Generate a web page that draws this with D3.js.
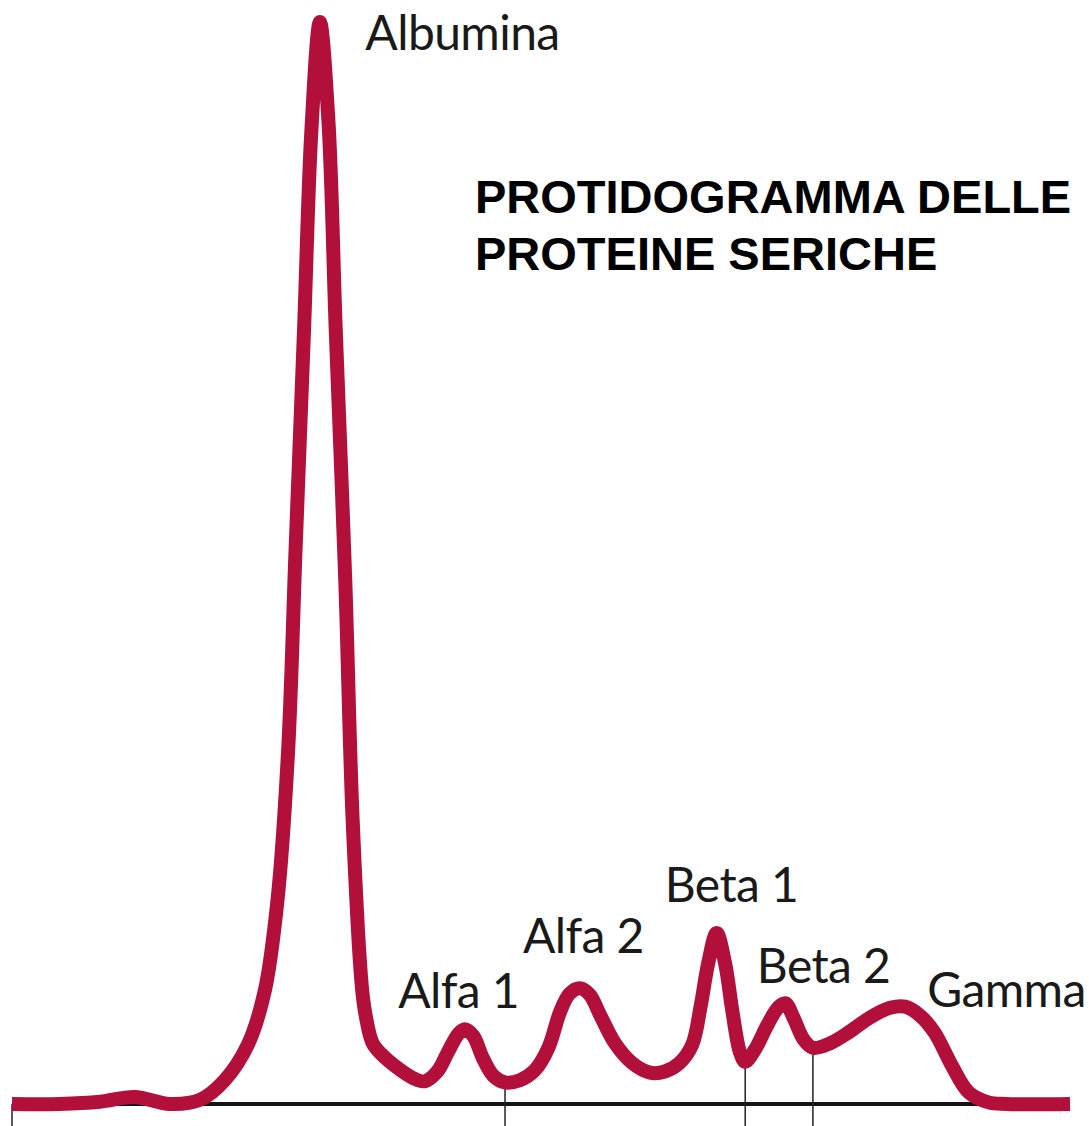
<!doctype html>
<meta charset="utf-8">
<title>Protidogramma</title>
<script src="https://cdn.jsdelivr.net/npm/d3@7"></script>
<style>
  body { margin: 0; background: #fff; }
  .lbl { font-family: Lato, "Open Sans", sans-serif; font-size: 48px; letter-spacing: -0.6px; fill: #1a1a1a; }
  .title { font-family: "Liberation Sans", Arial, sans-serif; font-weight: bold; font-size: 47px; fill: #000; }
</style>
<body>
<div id="chart"></div>
<script>

    // mobility (0-100) vs. density (0-100, albumin peak = 100)
    var mobility = [0, 4.5, 8.3, 11.6, 14.9, 17.8, 20.1, 22.3, 23.9, 25.1, 26.1, 26.8, 27.6, 28.3, 29.1,
            29.9, 30.6, 31.5, 32.2, 33.1, 33.5, 34.1, 35.3, 36.7, 37.9, 39.0, 40.2, 41.2, 42.2, 42.8,
            43.6, 44.5, 45.5, 46.6, 48.0, 49.4, 50.7, 51.8, 52.7, 53.7, 54.6, 55.6, 57.0, 58.6, 60.3,
            61.7, 63.1, 64.3, 65.1, 65.8, 66.6, 67.4, 68.1, 68.8, 69.3, 70.2, 71.4, 72.4, 73.1, 73.9,
            74.8, 75.7, 77.3, 79.2, 81.1, 83.0, 84.4, 85.8, 87.2, 88.8, 90.4, 92.3, 94.0, 100]
        , density = [0, 0, 0.2, 0.65, 0, 0.4, 2.2, 5.5, 10.5, 18.9, 32.7, 51.2, 71.5, 90, 100,
            91, 71.5, 48.4, 26.2, 10.5, 7.8, 5.6, 4.25, 3.15, 2.4, 2.1, 3.0, 4.8, 6.5, 6.9,
            6.3, 4.25, 2.6, 2.0, 2.2, 3.1, 5.2, 8.5, 10.2, 10.7, 10.1, 8.2, 5.6, 3.8, 2.9,
            3.0, 3.8, 5.5, 9.1, 13.0, 15.8, 13.0, 8.5, 4.8, 3.9, 5.0, 7.3, 8.9, 9.3, 7.9,
            6.0, 5.2, 5.6, 6.7, 8.0, 8.9, 9.0, 8.2, 6.6, 3.6, 1.1, 0.15, 0, 0];

    // fraction labels (left edge / baseline, in data units)
    var fractions = ['Albumina', 'Alfa 1', 'Alfa 2', 'Beta 1', 'Beta 2', 'Gamma']
        , labelX = [33.4, 36.5, 48.3, 61.7, 70.4, 86.5]
        , labelY = [97.4, 8.9, 14.0, 18.7, 11.2, 9.0];

    // fraction boundaries
    var dividers = [0, 46.6, 69.3, 75.7];

    var titleLines = ['PROTIDOGRAMMA DELLE', 'PROTEINE SERICHE'];

    var width = 1089
        , height = 1126;

    var x = d3.scaleLinear().domain([0, 100]).range([12, 1070]);
    var y = d3.scaleLinear().domain([0, 100]).range([1104, 22]);

    var svg = d3.select('#chart')
        .append('svg')
        .attr('width', width)
        .attr('height', height);

    var pts = mobility.map(function (m, i) { return { m: m, d: density[i] }; });

    // density at a given mobility (linear between points)
    function densityAt(m) {
        var i = d3.bisector(function (p) { return p.m; }).left(pts, m);
        if (i <= 0) return pts[0].d;
        if (i >= pts.length) return pts[pts.length - 1].d;
        var a = pts[i - 1], b = pts[i];
        return a.d + (b.d - a.d) * (m - a.m) / (b.m - a.m);
    }

    // baseline
    svg.append('line')
        .attr('x1', x(0)).attr('x2', x(100))
        .attr('y1', y(0)).attr('y2', y(0))
        .style('stroke', '#141414')
        .style('stroke-width', 4);

    // boundaries
    svg.selectAll('line.div')
        .data(dividers)
        .enter().append('line')
        .classed('div', true)
        .attr('x1', function (d) { return x(d); })
        .attr('x2', function (d) { return x(d); })
        .attr('y1', function (d) { return y(densityAt(d)); })
        .attr('y2', height)
        .style('stroke', '#222')
        .style('stroke-width', 1.5);

    var line = d3.line()
        .x(function (p) { return x(p.m); })
        .y(function (p) { return y(p.d); })
        .curve(d3.curveCatmullRom.alpha(0.5));

    svg.append('path')
        .datum(pts)
        .attr('d', line)
        .style('fill', 'none')
        .style('stroke', '#b20f3a')
        .style('stroke-width', 14)
        .style('stroke-linejoin', 'round')
        .style('stroke-linecap', 'butt');

    svg.selectAll('text.lbl')
        .data(fractions)
        .enter().append('text')
        .classed('lbl', true)
        .attr('x', function (d, i) { return x(labelX[i]); })
        .attr('y', function (d, i) { return y(labelY[i]); })
        .text(function (d) { return d; });

    svg.selectAll('text.title')
        .data(titleLines)
        .enter().append('text')
        .classed('title', true)
        .attr('x', 475)
        .attr('y', function (d, i) { return 213 + i * 57; })
        .text(function (d) { return d; });

</script>
</body>
